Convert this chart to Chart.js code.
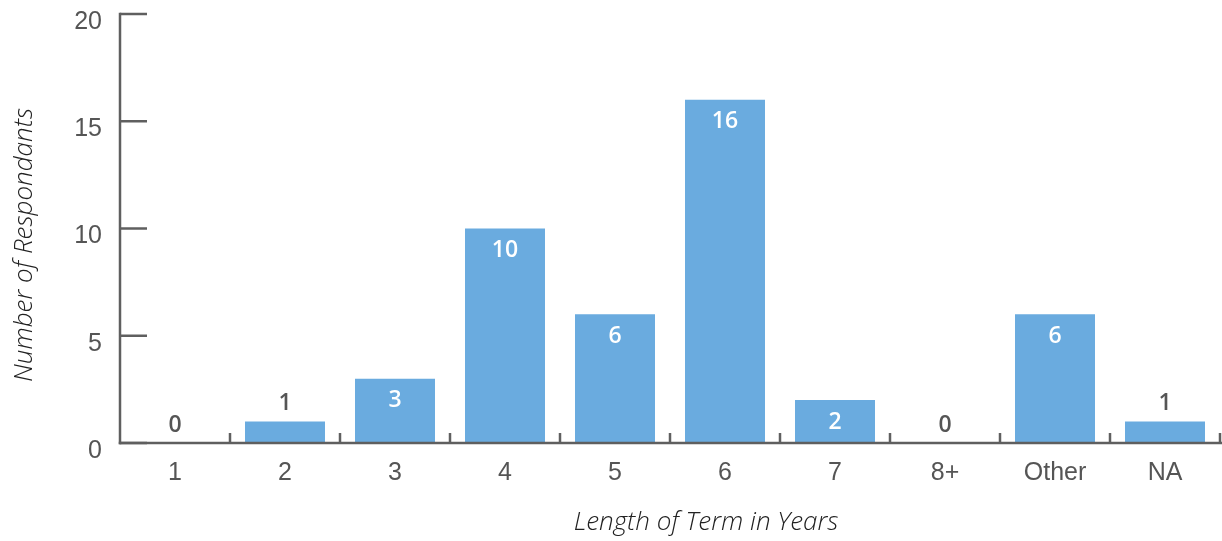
<!DOCTYPE html>
<html>
<head>
<meta charset="utf-8">
<script src="https://cdn.jsdelivr.net/npm/chart.js@4.4.1/dist/chart.umd.min.js"></script>
<style>
  html, body { margin: 0; padding: 0; background: #ffffff; }
  canvas { display: block; }
</style>
</head>
<body>
<canvas id="termChart" width="1222" height="541"></canvas>
<script>
// Survey answers: how long is the term, and how many respondents gave each answer
const categories = ['1', '2', '3', '4', '5', '6', '7', '8+', 'Other', 'NA'];
const respondents = [0, 1, 3, 10, 6, 16, 2, 0, 6, 1];
const yTickValues = [0, 5, 10, 15, 20];
const xAxisTitle = 'Length of Term in Years';
const yAxisTitle = 'Number of Respondants';

const AXIS_COLOR = '#5f5f5f';
const TICK_TEXT = '#555555';
const TITLE_TEXT = '#222222';
const BAR_COLOR = '#6aabdf';
const TICK_FONT = '"Liberation Sans", Arial, sans-serif';
const LABEL_FONT = '"Open Sans", sans-serif';
const TITLE_FONT = '"Open Sans", sans-serif';

// Axis lines, inward tick marks and the axis titles
const axisDecor = {
  id: 'axisDecor',
  afterDatasetsDraw(chart) {
    const { ctx, chartArea: area, scales: { x, y } } = chart;
    ctx.save();
    ctx.strokeStyle = AXIS_COLOR;
    ctx.lineWidth = 2.5;
    ctx.lineCap = 'butt';

    // y axis line
    ctx.beginPath();
    ctx.moveTo(area.left, area.top - 1.25);
    ctx.lineTo(area.left, area.bottom + 1.25);
    ctx.stroke();
    // x axis line
    ctx.beginPath();
    ctx.moveTo(area.left - 1.25, area.bottom);
    ctx.lineTo(chart.width, area.bottom);
    ctx.stroke();

    // y ticks pointing into the plot
    y.ticks.forEach(t => {
      const py = y.getPixelForValue(t.value);
      ctx.beginPath();
      ctx.moveTo(area.left, py);
      ctx.lineTo(area.left + 27, py);
      ctx.stroke();
    });

    // x ticks on the category boundaries, pointing up
    const half = (x.getPixelForValue(1) - x.getPixelForValue(0)) / 2;
    for (let i = 0; i < categories.length; i++) {
      const px = x.getPixelForValue(i) + half;
      ctx.beginPath();
      ctx.moveTo(px, area.bottom);
      ctx.lineTo(px, area.bottom - 10);
      ctx.stroke();
    }

    // axis titles
    ctx.fillStyle = TITLE_TEXT;
    ctx.font = 'italic 300 26px ' + TITLE_FONT;
    ctx.textAlign = 'center';
    ctx.textBaseline = 'middle';
    ctx.fillText(xAxisTitle, 706, 523);

    ctx.translate(25, 245);
    ctx.rotate(-Math.PI / 2);
    ctx.fillText(yAxisTitle, 0, 0);
    ctx.restore();
  }
};

// Value labels: inside the top of tall bars, above short ones
const valueLabels = {
  id: 'valueLabels',
  afterDatasetsDraw(chart) {
    const { ctx } = chart;
    const meta = chart.getDatasetMeta(0);
    ctx.save();
    ctx.font = '600 23px ' + LABEL_FONT;
    ctx.textAlign = 'center';
    ctx.textBaseline = 'middle';
    meta.data.forEach((bar, i) => {
      const v = respondents[i];
      if (v >= 2) {
        ctx.fillStyle = '#ffffff';
        ctx.fillText(String(v), bar.x, bar.y + 22);
      } else {
        ctx.fillStyle = TICK_TEXT;
        ctx.fillText(String(v), bar.x, bar.y - 18);
      }
    });
    ctx.restore();
  }
};

new Chart(document.getElementById('termChart'), {
  type: 'bar',
  data: {
    labels: categories,
    datasets: [{
      data: respondents,
      backgroundColor: BAR_COLOR,
      borderWidth: 0,
      categoryPercentage: 1,
      barPercentage: 80 / 110
    }]
  },
  options: {
    responsive: false,
    devicePixelRatio: 1,
    animation: false,
    layout: { padding: { top: 14, right: 2, left: 0, bottom: 0 } },
    plugins: {
      legend: { display: false },
      tooltip: { enabled: false },
      title: { display: false }
    },
    scales: {
      x: {
        grid: { display: false, drawTicks: false },
        border: { display: false },
        ticks: {
          color: TICK_TEXT,
          font: { family: TICK_FONT, size: 25 },
          padding: 15,
          maxRotation: 0,
          autoSkip: false
        },
        afterFit(scale) {
          scale.height = 98;
          scale.paddingLeft = 0;
          scale.paddingRight = 0;
        }
      },
      y: {
        min: 0,
        max: 20,
        grid: { display: false, drawTicks: false },
        border: { display: false },
        afterBuildTicks(scale) {
          scale.ticks = yTickValues.map(v => ({ value: v }));
        },
        ticks: {
          color: TICK_TEXT,
          font: { family: TICK_FONT, size: 25 },
          padding: 18,
          labelOffset: 8
        },
        afterFit(scale) {
          scale.width = 120;
          scale.paddingTop = 0;
          scale.paddingBottom = 0;
        }
      }
    }
  },
  plugins: [axisDecor, valueLabels]
});
</script>
</body>
</html>
